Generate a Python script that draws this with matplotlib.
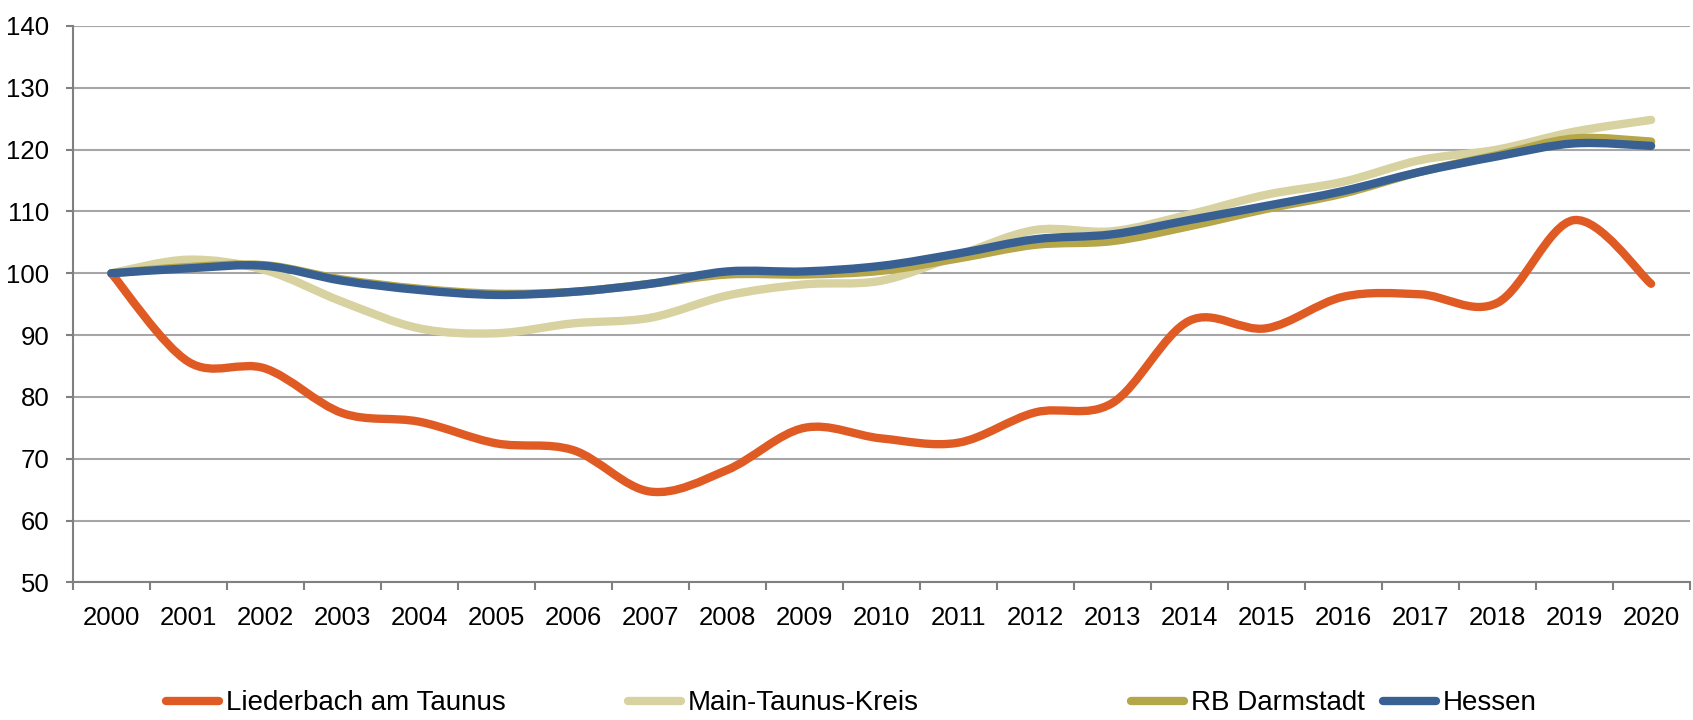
import numpy as np
import matplotlib
matplotlib.use("Agg")
import matplotlib.pyplot as plt
from matplotlib.path import Path
from matplotlib.patches import PathPatch
from matplotlib.lines import Line2D

years = [str(y) for y in range(2000, 2021)]

liederbach = [100.0, 85.7, 84.6, 77.4, 76.0, 72.5, 71.4, 64.7, 68.2, 75.0, 73.3,
              72.6, 77.5, 79.0, 92.3, 91.1, 96.2, 96.6, 95.2, 108.6, 98.3]
main_taunus = [100.0, 102.2, 100.5, 95.4, 91.1, 90.3, 91.9, 92.8, 96.4, 98.2, 98.8,
               102.9, 107.0, 106.8, 109.5, 112.7, 114.8, 118.3, 120.0, 122.9, 124.8]
rb_darmstadt = [100.0, 101.0, 101.3, 99.0, 97.5, 96.7, 97.0, 98.3, 99.8, 99.8, 100.4,
                102.4, 104.6, 105.2, 107.6, 110.4, 112.9, 116.4, 119.1, 121.8, 121.3]
hessen = [100.0, 100.8, 101.2, 98.8, 97.3, 96.5, 97.0, 98.3, 100.3, 100.3, 101.2,
          103.2, 105.5, 106.3, 108.6, 110.9, 113.3, 116.4, 118.9, 121.0, 120.6]

series = [
    ("Liederbach am Taunus", liederbach, "#E05A24"),
    ("Main-Taunus-Kreis", main_taunus, "#D7D2A0"),
    ("RB Darmstadt", rb_darmstadt, "#B5A64A"),
    ("Hessen", hessen, "#386092"),
]

plt.rcParams['font.family'] = ['Liberation Sans', 'DejaVu Sans']


def smooth_path(xs, ys):
    # Excel-style smoothed line: Catmull-Rom segments as cubic Beziers
    pts = np.column_stack([xs, ys]).astype(float)
    n = len(pts)
    verts = [pts[0]]
    codes = [Path.MOVETO]
    for i in range(n - 1):
        p0 = pts[max(i - 1, 0)]
        p1 = pts[i]
        p2 = pts[i + 1]
        p3 = pts[min(i + 2, n - 1)]
        verts += [p1 + (p2 - p0) / 6, p2 - (p3 - p1) / 6, p2]
        codes += [Path.CURVE4] * 3
    return Path(verts, codes)


fig = plt.figure(figsize=(16.93, 7.2), dpi=100)
ax = fig.add_axes([0.043, 0.191, 0.955, 0.773])

x = np.arange(len(years))
for name, vals, col in series:
    patch = PathPatch(smooth_path(x, vals), facecolor="none", edgecolor=col,
                      lw=6, capstyle="round", joinstyle="round", zorder=3)
    ax.add_patch(patch)

ax.set_xlim(-0.5, len(years) - 0.5)
ax.set_ylim(50, 140)
ax.set_yticks(range(50, 141, 10))
ax.yaxis.grid(True, color="#A6A6A6", lw=1.5)
ax.set_axisbelow(True)

ax.set_xticks(np.arange(-0.5, len(years), 1))
ax.set_xticklabels([])
ax.set_xticks(x, minor=True)
ax.set_xticklabels(years, minor=True)
ax.tick_params(axis="x", which="major", length=6, width=1.5, color="#808080")
ax.tick_params(axis="x", which="minor", length=0, pad=17, labelsize=18.5)
ax.tick_params(axis="y", length=5, width=1.5, color="#808080", pad=12, labelsize=18.5)

for s in ["top", "right"]:
    ax.spines[s].set_visible(False)
for s in ["left", "bottom"]:
    ax.spines[s].set_color("#808080")
    ax.spines[s].set_linewidth(1.5)

# legend entries placed like the original
legend_x = [0.098, 0.371, 0.668, 0.817]
for (name, vals, col), lx in zip(series, legend_x):
    h = Line2D([], [], color=col, lw=6, solid_capstyle="round")
    fig.legend([h], [name], loc="center left", bbox_to_anchor=(lx, 0.023),
               frameon=False, fontsize=20, handlelength=1.9, handletextpad=0.25,
               borderpad=0, borderaxespad=0)

fig.savefig("out.png", dpi=100)
